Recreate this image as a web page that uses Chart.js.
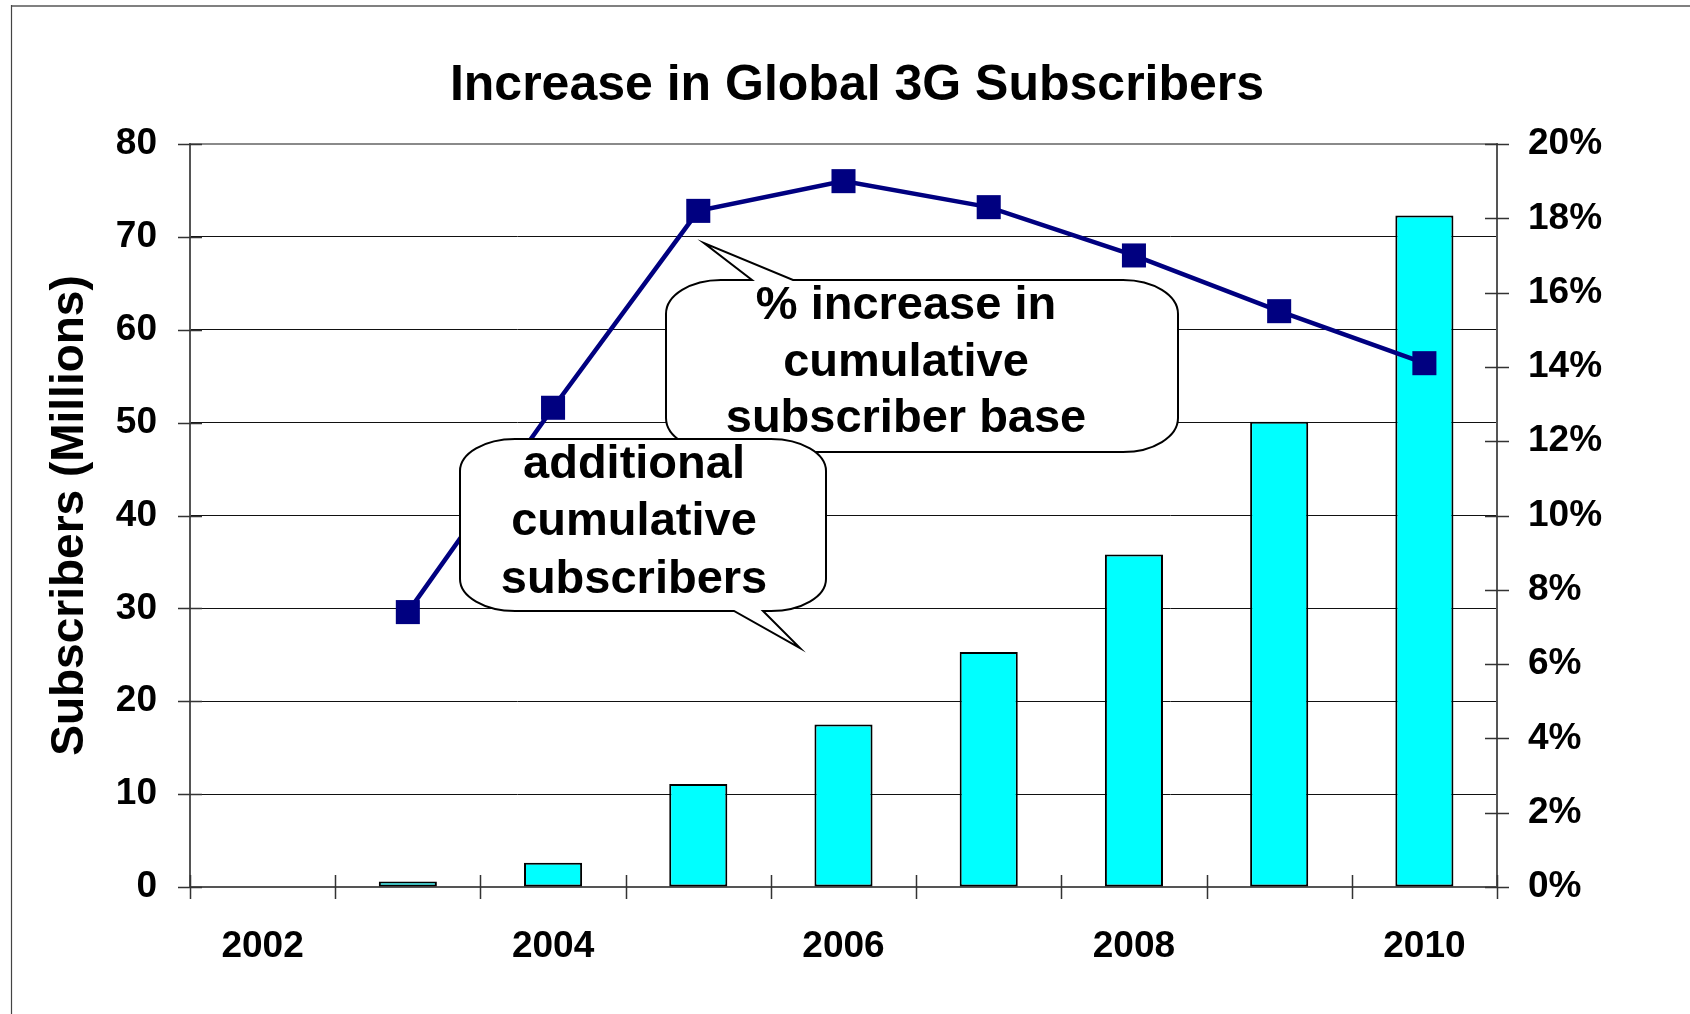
<!DOCTYPE html>
<html>
<head>
<meta charset="utf-8">
<script src="https://cdn.jsdelivr.net/npm/chart.js@4.4.1/dist/chart.umd.min.js"></script>
<style>
  html, body { margin: 0; padding: 0; background: #fff; }
  canvas { display: block; }
</style>
</head>
<body>
<canvas id="c" width="1690" height="1014"></canvas>
<script>
// ---- data ----
const categories = ['2002', '2003', '2004', '2005', '2006', '2007', '2008', '2009', '2010'];
const xTickLabels = ['2002', '', '2004', '', '2006', '', '2008', '', '2010'];
const subscribers = [null, 0.6, 2.6, 11.1, 17.5, 25.3, 35.8, 50.1, 72.3];      // millions
const pctIncrease = [null, 7.4, 12.9, 18.2, 19.0, 18.3, 17.0, 15.5, 14.1];      // %
const leftTickValues = [0, 10, 20, 30, 40, 50, 60, 70, 80];
const rightTickValues = [0, 2, 4, 6, 8, 10, 12, 14, 16, 18, 20];

const titleText = 'Increase in Global 3G Subscribers';
const yTitleText = 'Subscribers (Millions)';
const callout1Lines = ['% increase in', 'cumulative', 'subscriber base'];
const callout2Lines = ['additional', 'cumulative', 'subscribers'];

// ---- styling / layout ----
const FONT = "'Liberation Sans', Arial, Helvetica, sans-serif";
const callouts = [
  { lines: callout1Lines, box: [666, 280, 1178, 452], rx: 55, ry: 34,
    tail: { edge: 'top', a: 752, b: 793, tip: [704, 243] }, textX: 906, baselines: [319, 376, 432] },
  { lines: callout2Lines, box: [460, 439, 826, 611], rx: 55, ry: 32,
    tail: { edge: 'bottom', a: 734, b: 763, tip: [800, 648] }, textX: 634, baselines: [478, 535, 593] }
];

function drawCallout(ctx, c) {
  const [x0, y0, x1, y1] = c.box;
  const rx = c.rx, ry = c.ry, t = c.tail;
  ctx.beginPath();
  ctx.moveTo(x0 + rx, y0);
  if (t.edge === 'top') {
    ctx.lineTo(t.a, y0); ctx.lineTo(t.tip[0], t.tip[1]); ctx.lineTo(t.b, y0);
  }
  ctx.lineTo(x1 - rx, y0);
  ctx.ellipse(x1 - rx, y0 + ry, rx, ry, 0, -Math.PI / 2, 0);
  ctx.lineTo(x1, y1 - ry);
  ctx.ellipse(x1 - rx, y1 - ry, rx, ry, 0, 0, Math.PI / 2);
  if (t.edge === 'bottom') {
    ctx.lineTo(t.b, y1); ctx.lineTo(t.tip[0], t.tip[1]); ctx.lineTo(t.a, y1);
  }
  ctx.lineTo(x0 + rx, y1);
  ctx.ellipse(x0 + rx, y1 - ry, rx, ry, 0, Math.PI / 2, Math.PI);
  ctx.lineTo(x0, y0 + ry);
  ctx.ellipse(x0 + rx, y0 + ry, rx, ry, 0, Math.PI, Math.PI * 1.5);
  ctx.closePath();
  ctx.fillStyle = '#ffffff';
  ctx.fill();
  ctx.lineWidth = 2;
  ctx.strokeStyle = '#000000';
  ctx.lineJoin = 'miter';
  ctx.stroke();
  ctx.fillStyle = '#000000';
  ctx.font = 'bold 47px ' + FONT;
  ctx.textAlign = 'center';
  ctx.textBaseline = 'alphabetic';
  c.lines.forEach((s, i) => ctx.fillText(s, c.textX, c.baselines[i]));
}

const decor = {
  id: 'decor',
  beforeDraw(chart) {
    const ctx = chart.ctx;
    ctx.save();
    ctx.fillStyle = '#ffffff';
    ctx.fillRect(0, 0, chart.width, chart.height);
    ctx.restore();
  },
  afterDraw(chart) {
    const ctx = chart.ctx;
    const ca = chart.chartArea;
    const sx = chart.scales.x, sy = chart.scales.y, sy1 = chart.scales.y1;
    ctx.save();
    // outer frame
    ctx.strokeStyle = '#808080';
    ctx.lineWidth = 2;
    ctx.beginPath(); ctx.moveTo(11, 6); ctx.lineTo(chart.width, 6); ctx.stroke();
    ctx.strokeStyle = '#444444';
    ctx.lineWidth = 1.2;
    ctx.beginPath(); ctx.moveTo(11.5, 5); ctx.lineTo(11.5, chart.height); ctx.stroke();
    // cross tick marks
    ctx.strokeStyle = '#333333';
    ctx.lineWidth = 1.5;
    ctx.beginPath();
    leftTickValues.forEach(v => {
      const y = Math.round(sy.getPixelForValue(v)) + 0.5;
      ctx.moveTo(ca.left - 12, y); ctx.lineTo(ca.left + 12, y);
    });
    rightTickValues.forEach(v => {
      const y = Math.round(sy1.getPixelForValue(v)) + 0.5;
      ctx.moveTo(ca.right - 12, y); ctx.lineTo(ca.right + 12, y);
    });
    const n = categories.length;
    for (let i = 0; i <= n; i++) {
      const x = Math.round(sx.left + i * (sx.right - sx.left) / n) + 0.5;
      ctx.moveTo(x, ca.bottom - 12); ctx.lineTo(x, ca.bottom + 12);
    }
    ctx.stroke();
    // callouts
    callouts.forEach(c => drawCallout(ctx, c));
    ctx.restore();
  }
};

const tickFont = { family: FONT, size: 37, weight: 'bold' };

new Chart(document.getElementById('c'), {
  data: {
    labels: categories,
    datasets: [
      {
        type: 'line',
        label: '% increase in cumulative subscriber base',
        data: pctIncrease,
        yAxisID: 'y1',
        order: 0,
        borderColor: '#000080',
        borderWidth: 4.5,
        backgroundColor: '#000080',
        pointStyle: 'rect',
        pointRadius: 17,
        pointHoverRadius: 17,
        pointBorderWidth: 0,
        pointBackgroundColor: '#000080',
        tension: 0,
        fill: false
      },
      {
        type: 'bar',
        label: 'additional cumulative subscribers',
        data: subscribers,
        yAxisID: 'y',
        order: 1,
        backgroundColor: '#00FFFF',
        borderColor: '#000000',
        borderWidth: 2,
        borderSkipped: false,
        barPercentage: 0.4,
        categoryPercentage: 1.0
      }
    ]
  },
  options: {
    responsive: false,
    devicePixelRatio: 1,
    animation: false,
    layout: { padding: { left: 24, right: 0, top: 0, bottom: 0 } },
    plugins: {
      legend: { display: false },
      tooltip: { enabled: false },
      title: {
        display: true,
        text: titleText,
        color: '#000000',
        font: { family: FONT, size: 50, weight: 'bold' },
        padding: { top: 56, bottom: 28 }
      }
    },
    scales: {
      x: {
        type: 'category',
        offset: true,
        grid: { display: true, drawOnChartArea: false, drawTicks: false },
        border: { display: true, color: '#555555', width: 2 },
        ticks: {
          autoSkip: false, maxRotation: 0, minRotation: 0,
          padding: 38, color: '#000000', font: tickFont,
          callback: (v, i) => xTickLabels[i]
        },
        afterFit: s => { s.height = 127; }
      },
      y: {
        type: 'linear',
        position: 'left',
        min: 0, max: 80,
        afterBuildTicks: s => { s.ticks = leftTickValues.map(v => ({ value: v })); },
        grid: {
          drawTicks: false,
          color: ctx => (ctx.tick && ctx.tick.value === 80) ? '#8a8a8a' : '#111111',
          lineWidth: ctx => (ctx.tick && ctx.tick.value === 80) ? 2 : 1
        },
        border: { display: true, color: '#555555', width: 2 },
        ticks: { padding: 33, color: '#000000', font: tickFont },
        title: {
          display: true, text: yTitleText, color: '#000000',
          font: { family: FONT, size: 46, weight: 'bold' },
          padding: { top: 19, bottom: 0 }
        },
        afterFit: s => { s.width = 166; }
      },
      y1: {
        type: 'linear',
        position: 'right',
        min: 0, max: 20,
        afterBuildTicks: s => { s.ticks = rightTickValues.map(v => ({ value: v })); },
        grid: { drawOnChartArea: false, drawTicks: false },
        border: { display: true, color: '#555555', width: 2 },
        ticks: { padding: 31, color: '#000000', font: tickFont, callback: v => v + '%' },
        afterFit: s => { s.width = 193; }
      }
    }
  },
  plugins: [decor]
});
</script>
</body>
</html>
